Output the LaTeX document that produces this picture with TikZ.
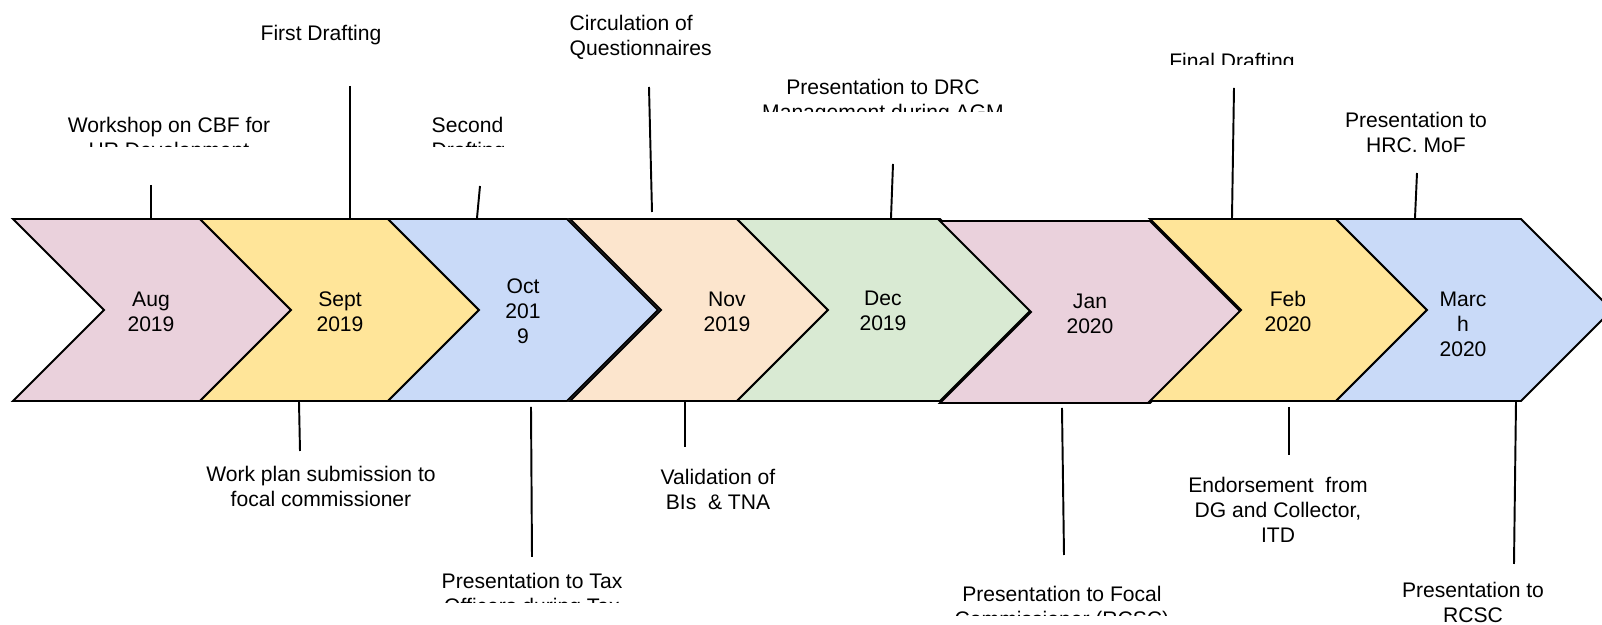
\documentclass[tikz,border=0pt]{standalone}
\usepackage{fontspec}
\setmainfont{Liberation Sans}
\usepackage{xcolor}
\definecolor{monpink}{HTML}{EAD1DC}
\definecolor{monyellow}{HTML}{FFE599}
\definecolor{monblue}{HTML}{C9DAF8}
\definecolor{monpeach}{HTML}{FCE5CD}
\definecolor{mongreen}{HTML}{D9EAD3}
% chevron: left x, right x, top y, bottom y, fill
\newcommand{\monthchev}[5]{\filldraw[chev,fill=#5] (#1,#3) -- (#2,#3) -- ({#2+91},{(#3+#4)/2}) -- (#2,#4) -- (#1,#4) -- ({#1+91},{(#3+#4)/2}) -- cycle;}

\begin{document}
\begin{tikzpicture}[x=0.01cm,y=-0.01cm,every node/.style={font=\fontsize{6}{7.1}\selectfont,inner sep=0pt,anchor=north},
  chev/.style={draw=black,line width=0.55pt,line join=miter},
  lbl/.style={align=center},
  lbll/.style={align=left},
  tick/.style={line width=0.55pt}]
\useasboundingbox (0,0) rectangle (1602,625);
% chevrons
\monthchev{13}{200}{219}{401}{monpink}
\monthchev{200}{388}{219}{401}{monyellow}
\monthchev{388}{567}{219}{401}{monblue}
\monthchev{570}{737}{219}{401}{monpeach}
\monthchev{737}{940}{219}{401}{mongreen}
\monthchev{940}{1150}{221}{403}{monpink}
\monthchev{1150}{1336}{219}{401}{monyellow}
\monthchev{1336}{1521}{219}{401}{monblue}
% months
\node[lbl] (aug) at (151,291) {Aug\\2019};
\node[lbl] (sep) at (340,291) {Sept\\2019};
\node[lbl] (oct) at (523,278) {Oct\\201\\9};
\node[lbl] (nov) at (727,291) {Nov\\2019};
\node[lbl] (dec) at (883,290) {Dec\\2019};
\node[lbl] (jan) at (1090,293) {Jan\\2020};
\node[lbl] (feb) at (1288,291) {Feb\\2020};
\node[lbl] (mar) at (1463,291) {Marc\\h\\2020};
% events above
\begin{scope}\clip (40,100) rectangle (300,147);
\node[lbl] (workshop) at (169,117) {Workshop on CBF for\\HR Development};
\end{scope}
\node[lbl] (first) at (321,25) {First Drafting};
\begin{scope}\clip (400,100) rectangle (503,147);
\node[lbll,anchor=north west] (second) at (431,117) {Second\\Drafting};
\end{scope}
\node[lbll,anchor=north west] (circ) at (569,15) {Circulation of\\Questionnaires};
\begin{scope}\clip (740,60) rectangle (1030,112);
\node[lbl] (drc) at (883,79) {Presentation to DRC\\Management during AGM};
\end{scope}
\begin{scope}\clip (1140,40) rectangle (1330,65);
\node[lbl] (final) at (1232,53) {Final Drafting};
\end{scope}
\node[lbl] (hrc) at (1416,112) {Presentation to\\HRC. MoF};
% events below
\node[lbl] (workplan) at (321,466) {Work plan submission to\\focal commissioner};
\begin{scope}\clip (420,560) rectangle (650,603);
\node[lbl] (taxoff) at (532,573) {Presentation to Tax\\Officers during Tax};
\end{scope}
\node[lbl] (valid) at (718,469) {Validation of\\BIs\ \ \& TNA};
\begin{scope}\clip (930,570) rectangle (1200,616);
\node[lbl] (focal) at (1062,586) {Presentation to Focal\\Commissioner (RCSC)};
\end{scope}
\node[lbl] (endorse) at (1278,477) {Endorsement\ \ from\\DG and Collector,\\ITD};
\node[lbl] (rcsc) at (1473,582) {Presentation to\\RCSC};
% ticks
\coordinate (t1a) at (151,185); \coordinate (t1b) at (151,218);
\coordinate (t2a) at (350,86);  \coordinate (t2b) at (350,218);
\coordinate (t3a) at (480,186); \coordinate (t3b) at (477,218);
\coordinate (t4a) at (649,87);  \coordinate (t4b) at (652,212);
\coordinate (t5a) at (893,164); \coordinate (t5b) at (891,218);
\coordinate (t6a) at (1234,88); \coordinate (t6b) at (1232,218);
\coordinate (t7a) at (1417,173); \coordinate (t7b) at (1415,218);
\coordinate (b1a) at (299,402); \coordinate (b1b) at (300,451);
\coordinate (b2a) at (531,407); \coordinate (b2b) at (532,557);
\coordinate (b3a) at (685,402); \coordinate (b3b) at (685,447);
\coordinate (b4a) at (1062,408); \coordinate (b4b) at (1064,555);
\coordinate (b5a) at (1289,407); \coordinate (b5b) at (1289,455);
\coordinate (b6a) at (1516,402); \coordinate (b6b) at (1514,564);
\draw[tick] (t1a)--(t1b);\draw[tick] (t2a)--(t2b);\draw[tick] (t3a)--(t3b);\draw[tick] (t4a)--(t4b);
\draw[tick] (t5a)--(t5b);\draw[tick] (t6a)--(t6b);\draw[tick] (t7a)--(t7b);
\draw[tick] (b1a)--(b1b);\draw[tick] (b2a)--(b2b);\draw[tick] (b3a)--(b3b);
\draw[tick] (b4a)--(b4b);\draw[tick] (b5a)--(b5b);\draw[tick] (b6a)--(b6b);
\end{tikzpicture}
\end{document}
